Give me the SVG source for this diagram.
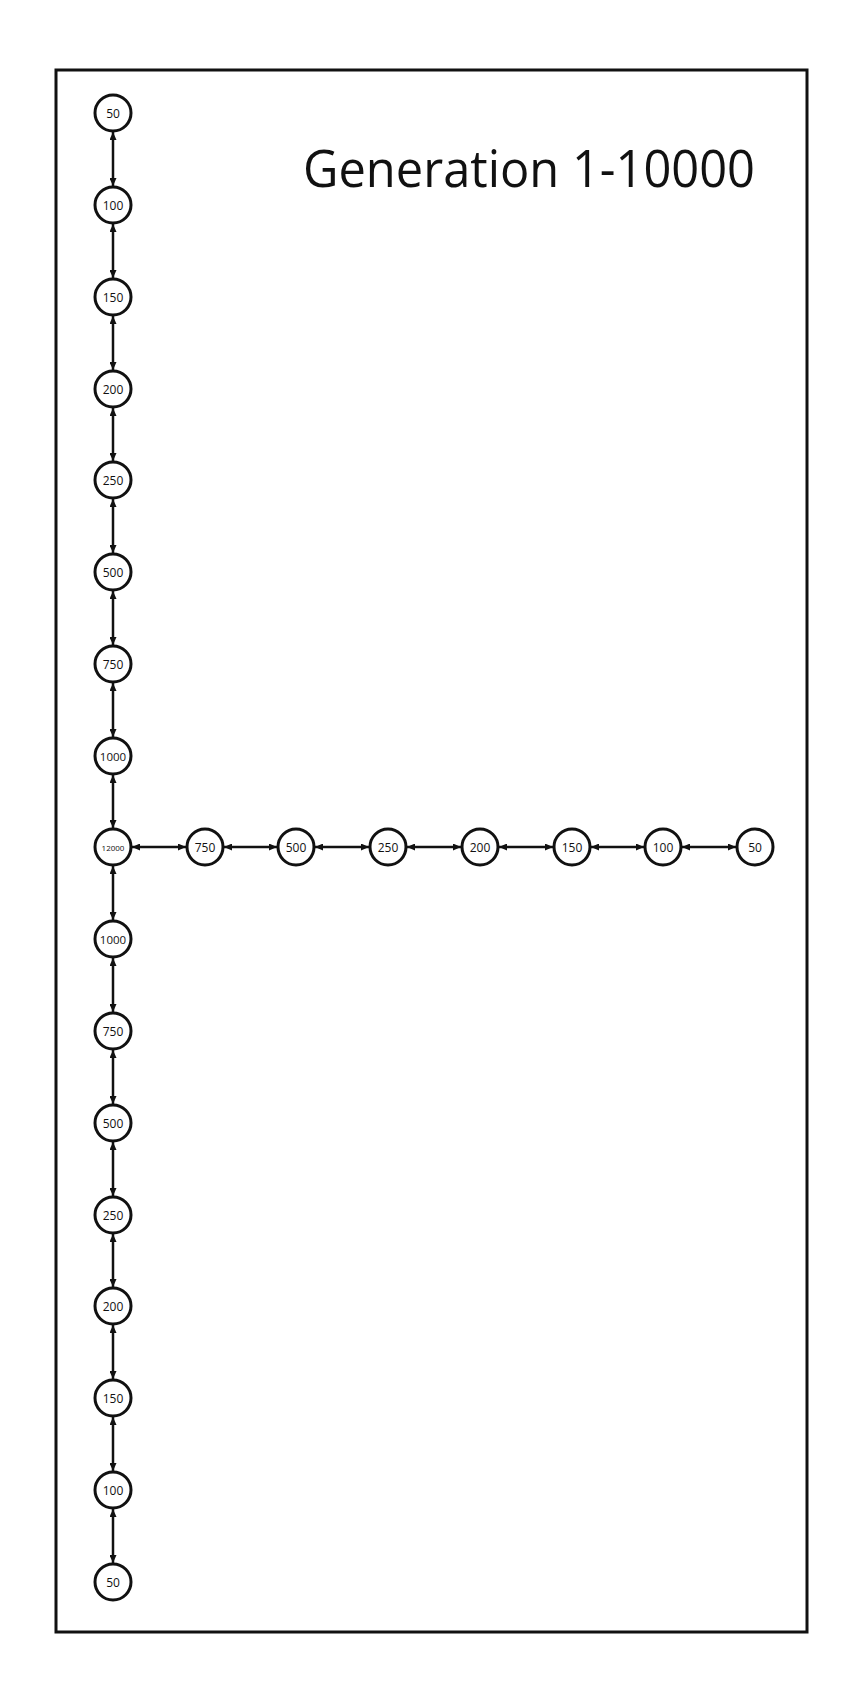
<svg xmlns="http://www.w3.org/2000/svg" width="859" height="1700" viewBox="0 0 859 1700">
<defs>
<style>
.node circle{fill:#fff;stroke:#111;stroke-width:3}
.node text{font-family:"Open Sans","Liberation Sans",sans-serif;font-size:12px;fill:#111;text-anchor:middle;dominant-baseline:central}
.node text.w{font-size:11.5px}
.node text.c{font-size:8px}
.edge{stroke:#111;stroke-width:2.5;fill:none;marker-start:url(#ah);marker-end:url(#ah)}
</style>
<marker id="ah" markerUnits="userSpaceOnUse" markerWidth="8" markerHeight="7" refX="8" refY="3.5" orient="auto-start-reverse">
<path d="M0,0 L8,3.5 L0,7 z" fill="#111"/>
</marker>
</defs>
<rect x="0" y="0" width="859" height="1700" fill="#fff"/>
<rect id="frame" x="56" y="70" width="751" height="1562" fill="none" stroke="#111" stroke-width="3"/>
<text id="title" x="303" y="187" font-family="Open Sans, Liberation Sans, sans-serif" font-size="52" fill="#111" textLength="452" lengthAdjust="spacingAndGlyphs">Generation 1-10000</text>
<g id="connectors">
<line class="edge" x1="113" y1="132" x2="113" y2="186"/>
<line class="edge" x1="113" y1="224" x2="113" y2="278"/>
<line class="edge" x1="113" y1="316" x2="113" y2="370"/>
<line class="edge" x1="113" y1="408" x2="113" y2="461"/>
<line class="edge" x1="113" y1="499" x2="113" y2="553"/>
<line class="edge" x1="113" y1="591" x2="113" y2="645"/>
<line class="edge" x1="113" y1="683" x2="113" y2="737"/>
<line class="edge" x1="113" y1="775" x2="113" y2="828"/>
<line class="edge" x1="113" y1="866" x2="113" y2="920"/>
<line class="edge" x1="113" y1="958" x2="113" y2="1012"/>
<line class="edge" x1="113" y1="1050" x2="113" y2="1104"/>
<line class="edge" x1="113" y1="1142" x2="113" y2="1196"/>
<line class="edge" x1="113" y1="1234" x2="113" y2="1287"/>
<line class="edge" x1="113" y1="1325" x2="113" y2="1379"/>
<line class="edge" x1="113" y1="1417" x2="113" y2="1471"/>
<line class="edge" x1="113" y1="1509" x2="113" y2="1563"/>
<line class="edge" x1="132" y1="847" x2="186" y2="847"/>
<line class="edge" x1="224" y1="847" x2="277" y2="847"/>
<line class="edge" x1="315" y1="847" x2="369" y2="847"/>
<line class="edge" x1="407" y1="847" x2="461" y2="847"/>
<line class="edge" x1="499" y1="847" x2="553" y2="847"/>
<line class="edge" x1="591" y1="847" x2="644" y2="847"/>
<line class="edge" x1="682" y1="847" x2="736" y2="847"/>
</g>
<g id="v1" class="node"><circle cx="113" cy="113" r="18"/><text x="113" y="113">50</text></g>
<g id="v2" class="node"><circle cx="113" cy="205" r="18"/><text x="113" y="205">100</text></g>
<g id="v3" class="node"><circle cx="113" cy="297" r="18"/><text x="113" y="297">150</text></g>
<g id="v4" class="node"><circle cx="113" cy="389" r="18"/><text x="113" y="389">200</text></g>
<g id="v5" class="node"><circle cx="113" cy="480" r="18"/><text x="113" y="480">250</text></g>
<g id="v6" class="node"><circle cx="113" cy="572" r="18"/><text x="113" y="572">500</text></g>
<g id="v7" class="node"><circle cx="113" cy="664" r="18"/><text x="113" y="664">750</text></g>
<g id="v8" class="node"><circle cx="113" cy="756" r="18"/><text class="w" x="113" y="756">1000</text></g>
<g id="center" class="node"><circle cx="113" cy="847" r="18"/><text class="c" x="113" y="847">12000</text></g>
<g id="v10" class="node"><circle cx="113" cy="939" r="18"/><text class="w" x="113" y="939">1000</text></g>
<g id="v11" class="node"><circle cx="113" cy="1031" r="18"/><text x="113" y="1031">750</text></g>
<g id="v12" class="node"><circle cx="113" cy="1123" r="18"/><text x="113" y="1123">500</text></g>
<g id="v13" class="node"><circle cx="113" cy="1215" r="18"/><text x="113" y="1215">250</text></g>
<g id="v14" class="node"><circle cx="113" cy="1306" r="18"/><text x="113" y="1306">200</text></g>
<g id="v15" class="node"><circle cx="113" cy="1398" r="18"/><text x="113" y="1398">150</text></g>
<g id="v16" class="node"><circle cx="113" cy="1490" r="18"/><text x="113" y="1490">100</text></g>
<g id="v17" class="node"><circle cx="113" cy="1582" r="18"/><text x="113" y="1582">50</text></g>
<g id="h1" class="node"><circle cx="205" cy="847" r="18"/><text x="205" y="847">750</text></g>
<g id="h2" class="node"><circle cx="296" cy="847" r="18"/><text x="296" y="847">500</text></g>
<g id="h3" class="node"><circle cx="388" cy="847" r="18"/><text x="388" y="847">250</text></g>
<g id="h4" class="node"><circle cx="480" cy="847" r="18"/><text x="480" y="847">200</text></g>
<g id="h5" class="node"><circle cx="572" cy="847" r="18"/><text x="572" y="847">150</text></g>
<g id="h6" class="node"><circle cx="663" cy="847" r="18"/><text x="663" y="847">100</text></g>
<g id="h7" class="node"><circle cx="755" cy="847" r="18"/><text x="755" y="847">50</text></g>
</svg>
